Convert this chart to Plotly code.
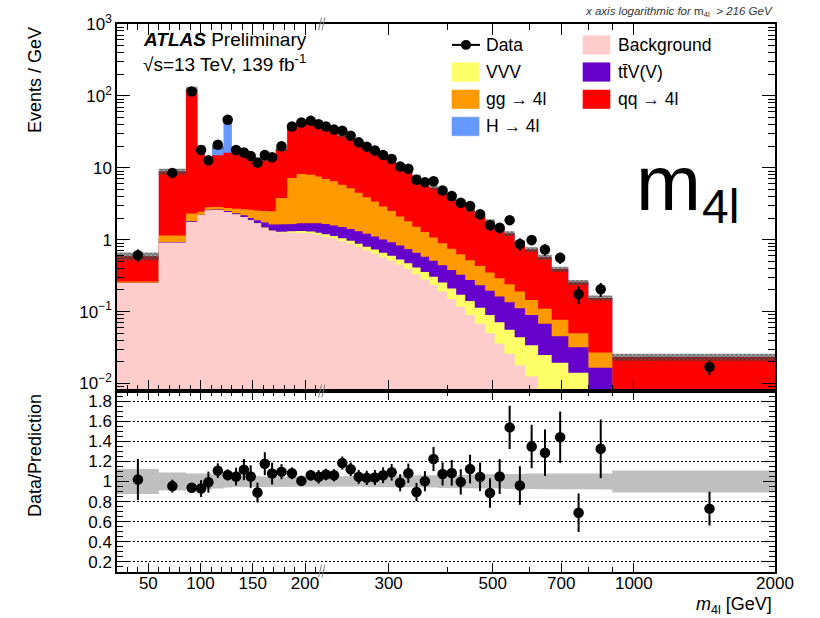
import numpy as np
import plotly.graph_objects as go

# ---------------- data ----------------
edges = [20, 60, 86, 97, 104, 111, 122, 130, 138, 145, 151, 158, 165, 172, 183, 192, 201, 210, 216,
         225, 234, 244, 254, 264, 275, 286, 298, 311, 324, 337, 351, 366, 382, 400, 418, 437, 458,
         482, 505, 530, 557, 586, 625, 668, 725, 800, 900, 2000]

data = [0.61, 8.5, 115, 17.7, 12.7, 21, 46.5, 17.7, 16.3, 14.6, 11.8, 15.1, 14.0, 19.9, 37.6, 42.7, 45, 40.5,
        37.6, 34, 32.8, 28, 22.6, 19.7, 17.4, 15.1, 13.3, 10.4, 9.7, 6.8, 6.3, 6.5, 4.85, 4.05, 3.27, 2.95,
        2.26, 1.59, 1.47, 1.87, 0.87, 0.99, 0.73, 0.56, 0.175, 0.205, 0.017]
data_relerr = [0.20, 0.067, 0.028, 0.09, 0.106, 0.066, 0.052, 0.084, 0.094, 0.107, 0.11, 0.097, 0.10, 0.068,
               0.054, 0.051, 0.05, 0.064, 0.054, 0.057, 0.055, 0.06, 0.066, 0.068, 0.072, 0.074, 0.076, 0.086,
               0.089, 0.10, 0.10, 0.098, 0.107, 0.117, 0.127, 0.127, 0.136, 0.165, 0.165, 0.14, 0.2, 0.16,
               0.18, 0.177, 0.277, 0.22, 0.23]
ratio = [1.02, 0.954, 0.937, 0.93, 0.993, 1.108, 1.065, 1.049, 1.118, 1.049, 0.89, 1.177, 1.079, 1.098, 1.082,
         1.006, 1.062, 1.046, 1.069, 1.062, 1.183, 1.121, 1.046, 1.036, 1.039, 1.062, 1.092, 0.987, 1.082,
         0.895, 1.003, 1.223, 1.075, 1.085, 0.996, 1.124, 1.046, 0.885, 1.049, 1.538, 0.96, 1.348, 1.286,
         1.44, 0.69, 1.325, 0.73]

# stack tops (cumulative heights, Events / GeV)
bkg_top = [0.25, 0.91, 1.77, 2.19, 2.55, 2.57, 2.43, 2.25, 2.07, 1.86, 1.68, 1.46, 1.32, 1.26, 1.245, 1.245, 1.22, 1.16,
           1.10, 1.04, 0.96, 0.88, 0.79, 0.71, 0.64, 0.57, 0.51, 0.45, 0.39, 0.33, 0.28, 0.235, 0.19, 0.15, 0.117,
           0.09, 0.068, 0.05, 0.036, 0.026, 0.018, 0.0125, 0.0075, 0.0045, 0.0028, 0.0016, 0.0002]
vvv_top = [0.25, 0.91, 1.77, 2.19, 2.55, 2.57, 2.43, 2.25, 2.07, 1.87, 1.69, 1.48, 1.34, 1.29, 1.31, 1.32, 1.30, 1.25,
           1.19, 1.13, 1.05, 0.97, 0.88, 0.80, 0.73, 0.66, 0.60, 0.53, 0.47, 0.41, 0.355, 0.305, 0.255, 0.21, 0.172,
           0.14, 0.113, 0.09, 0.071, 0.056, 0.044, 0.034, 0.025, 0.0194, 0.0141, 0.006, 0.0005]
ttv_top = [0.252, 0.93, 1.81, 2.23, 2.60, 2.63, 2.50, 2.33, 2.19, 2.01, 1.86, 1.73, 1.63, 1.63, 1.65, 1.70, 1.73, 1.70,
           1.65, 1.58, 1.50, 1.41, 1.31, 1.21, 1.11, 1.01, 0.92, 0.83, 0.74, 0.66, 0.58, 0.51, 0.44, 0.38, 0.325,
           0.275, 0.232, 0.195, 0.162, 0.135, 0.111, 0.09, 0.068, 0.0454, 0.032, 0.0166, 0.002]
gg_top = [0.262, 1.14, 2.31, 2.45, 2.83, 2.85, 2.76, 2.70, 2.65, 2.62, 2.55, 2.50, 2.48, 3.8, 7.2, 8.2, 8.0, 7.6,
          7.0, 6.5, 5.8, 5.2, 4.5, 3.9, 3.4, 2.9, 2.5, 2.1, 1.8, 1.52, 1.28, 1.07, 0.89, 0.75, 0.63, 0.52, 0.43,
          0.35, 0.29, 0.24, 0.19, 0.145, 0.11, 0.077, 0.050, 0.027, 0.004]
qq_top = [0.59, 8.9, 124, 19, 12.8, 15.0, 16.2, 16.9, 14.6, 13.9, 13.3, 12.8, 13.0, 18.1, 34.8, 42.4, 42.4, 38.7,
          35.2, 32, 27.7, 25, 21.6, 19, 16.7, 14.2, 12.2, 10.5, 9.0, 7.6, 6.3, 5.3, 4.5, 3.73, 3.28, 2.62, 2.16,
          1.80, 1.40, 1.22, 0.91, 0.73, 0.57, 0.39, 0.254, 0.155, 0.0233]
h_top = [0.59, 8.9, 124, 19, 12.8, 19.3, 43.7, 16.9, 14.6, 13.9, 13.3, 12.8, 13.0, 18.1, 34.8, 42.4, 42.4, 38.7,
         35.2, 32, 27.7, 25, 21.6, 19, 16.7, 14.2, 12.2, 10.5, 9.0, 7.6, 6.3, 5.3, 4.5, 3.73, 3.28, 2.62, 2.16,
         1.80, 1.40, 1.22, 0.91, 0.73, 0.57, 0.39, 0.254, 0.155, 0.0233]
pred_relunc = [0.125, 0.09, 0.08, 0.08, 0.08, 0.07, 0.06, 0.055, 0.055, 0.055, 0.055, 0.05, 0.05, 0.05, 0.05, 0.05,
               0.05, 0.05, 0.05, 0.05, 0.05, 0.05, 0.05, 0.055, 0.055, 0.055, 0.055, 0.06, 0.06, 0.06, 0.06, 0.06,
               0.065, 0.065, 0.065, 0.07, 0.07, 0.07, 0.07, 0.075, 0.075, 0.08, 0.08, 0.08, 0.08, 0.08, 0.11]

xtick_major = [50, 100, 150, 200, 300, 500, 700, 1000, 2000]
xtick_minor = [30, 40, 60, 70, 80, 90, 110, 120, 130, 140, 160, 170, 180, 190, 210, 400, 600, 800, 900]

# ---------------- piecewise x scale: linear up to 216 GeV, log above ----------------
BREAK = 216.0
K = 449.0


def U(m):
    m = np.asarray(m, dtype=float)
    return np.where(m <= BREAK, m, BREAK + K * np.log10(np.maximum(m, 1e-9) / BREAK))


e = np.array(edges, float)
ulo, uhi = U(e[:-1]), U(e[1:])
upt = U((e[:-1] + e[1:]) / 2)
XMIN, XMAX = float(U(20)), float(U(2000))

W, H = 820, 618
L, R, T, B = 117, 45, 21, 46
PW, PH = W - L - R, H - T - B
SPLIT = (H - B - 390) / PH
FONT = "Liberation Sans, Arial, Helvetica, sans-serif"


def xp(px):
    return (px - L) / PW


def yp(py):
    return (H - B - py) / PH


def step_outline(top):
    xs, ys = [], []
    for a, b, v in zip(ulo, uhi, top):
        xs += [a, b]
        ys += [v, v]
    return xs, ys


def filled_hist(top, floor):
    xs, ys = step_outline(top)
    return [ulo[0]] + xs + [uhi[-1]], [floor] + ys + [floor]


def band(lo, hi):
    xs1, ys1 = step_outline(hi)
    xs2, ys2 = step_outline(lo)
    return xs1 + xs2[::-1] + [xs1[0]], ys1 + ys2[::-1] + [ys1[0]]


fig = go.Figure()

colors = {
    "H": "#6699FF", "qq": "#FF0000", "gg": "#FF9900",
    "ttv": "#6600CC", "vvv": "#FFFF66", "bkg": "#FFCCCC",
}
for key, top in [("H", h_top), ("qq", qq_top), ("gg", gg_top), ("ttv", ttv_top), ("vvv", vvv_top), ("bkg", bkg_top)]:
    xs, ys = filled_hist(top, 1e-4)
    fig.add_trace(go.Scatter(x=xs, y=ys, mode="lines", fill="toself", fillcolor=colors[key],
                             line=dict(width=0, color=colors[key]), xaxis="x", yaxis="y", hoverinfo="skip"))

tot = np.array(h_top)
unc = np.array(pred_relunc)
xs, ys = band(list(tot * (1 - unc)), list(tot * (1 + unc)))
fig.add_trace(go.Scatter(x=xs, y=ys, mode="lines", fill="toself", fillcolor="rgba(80,80,80,0.5)",
                         fillpattern=dict(shape="x", fgcolor="rgba(35,35,35,0.95)", bgcolor="rgba(90,90,90,0.5)",
                                          size=3, solidity=0.6),
                         line=dict(width=0), xaxis="x", yaxis="y", hoverinfo="skip"))

d = np.array(data)
fig.add_trace(go.Scatter(x=upt, y=d, mode="markers", xaxis="x", yaxis="y",
                         marker=dict(color="black", size=10.5),
                         error_y=dict(type="data", array=d * np.array(data_relerr), color="black", thickness=2, width=0)))

# ratio panel
xs, ys = band(list(1 - unc), list(1 + unc))
fig.add_trace(go.Scatter(x=xs, y=ys, mode="lines", fill="toself", fillcolor="#BFBFBF", line=dict(width=0),
                         xaxis="x2", yaxis="y2", hoverinfo="skip"))
r = np.array(ratio)
fig.add_trace(go.Scatter(x=upt, y=r, mode="markers", xaxis="x2", yaxis="y2",
                         marker=dict(color="black", size=10.5),
                         error_y=dict(type="data", array=r * np.array(data_relerr), color="black", thickness=2, width=0)))

axis_common = dict(showline=True, linecolor="black", linewidth=1.5, mirror="allticks", ticks="inside",
                   tickcolor="black", tickwidth=1, zeroline=False, showgrid=False,
                   tickfont=dict(family=FONT, size=17, color="black"))

xmaj = [float(v) for v in U(xtick_major)]
xmin_ = [float(v) for v in U(xtick_minor)]
xcommon = dict(axis_common, range=[XMIN, XMAX], tickmode="array", tickvals=xmaj,
               ticktext=[str(v) for v in xtick_major], ticklen=11,
               minor=dict(tickvals=xmin_, ticklen=6, ticks="inside", tickcolor="black", tickwidth=1))

ymaj = [1e-2, 1e-1, 1, 10, 100, 1000]
ymin_ = [m * 10.0 ** k for k in range(-3, 3) for m in range(2, 10) if 10 ** -2.104 < m * 10.0 ** k < 1000]

fig.update_layout(
    width=W, height=H, margin=dict(l=L, r=R, t=T, b=B),
    paper_bgcolor="white", plot_bgcolor="white", showlegend=False,
    font=dict(family=FONT, color="black"),
    xaxis=dict(xcommon, domain=[0, 1], anchor="y", showticklabels=False),
    xaxis2=dict(xcommon, domain=[0, 1], anchor="y2", matches="x", showticklabels=True, ticklen=9,
                ticklabelstandoff=-5,
                minor=dict(tickvals=xmin_, ticklen=5, ticks="inside", tickcolor="black", tickwidth=1)),
    yaxis=dict(axis_common, domain=[SPLIT, 1], anchor="x", type="log", range=[-2.104, 3],
               tickmode="array", tickvals=ymaj,
               ticktext=["10<sup>−2</sup>", "10<sup>−1</sup>", "1", "10", "10<sup>2</sup>", "10<sup>3</sup>"],
               ticklen=13, minor=dict(tickvals=ymin_, ticklen=7, ticks="inside", tickcolor="black", tickwidth=1)),
    yaxis2=dict(axis_common, domain=[0, SPLIT], anchor="x2", range=[0.1, 1.9], tickmode="array",
                tickvals=[0.2, 0.4, 0.6, 0.8, 1.0, 1.2, 1.4, 1.6, 1.8],
                ticktext=["0.2", "0.4", "0.6", "0.8", "1", "1.2", "1.4", "1.6", "1.8"],
                ticklen=12, showgrid=True, gridcolor="black", griddash="1.5px,2.5px", gridwidth=1,
                tickfont=dict(family=FONT, size=17, color="black"),
                minor=dict(tickvals=[round(0.1 + 0.05 * i, 2) for i in range(37)], ticklen=6, ticks="inside",
                           tickcolor="black", tickwidth=1, showgrid=False)),
)

ann = []


def A(text, x, y, size, xanchor="left", yanchor="middle", **kw):
    ann.append(dict(text=text, x=x, y=y, xref="paper", yref="paper", xanchor=xanchor, yanchor=yanchor,
                    showarrow=False, font=dict(family=FONT, size=size, color=kw.pop("color", "black")), **kw))


A("<b><i>ATLAS</i></b> Preliminary", xp(141), yp(37), 19)
A("√s=13 TeV, 139 fb<sup>-1</sup>", xp(141), yp(60), 19)
A("<i>x axis logarithmic for </i>m<sub>4l</sub><i>  &gt; 216 GeV</i>", xp(775), yp(9), 11.5, xanchor="right",
  color="#333333")
A("m", xp(634), yp(181), 78)
A("4l", xp(700), yp(204), 48)
A("Events / GeV", xp(35), yp(22), 18, xanchor="center", yanchor="top", textangle=-90)
A("Data/Prediction", xp(35.5), yp(391), 18, xanchor="center", yanchor="top", textangle=-90)
A("<i>m</i><sub>4l</sub> [GeV]", xp(774), yp(606), 18, xanchor="right")

shapes = []
rows = [42.0, 69.3, 96.7, 124.0]
col_box = [(452, 479), (583, 610)]
col_txt = [484, 616]
legend_items = [
    (0, 1, "Background", colors["bkg"]), (1, 0, "VVV", colors["vvv"]), (1, 1, "tt̄V(V)", colors["ttv"]),
    (2, 0, "gg → 4l", colors["gg"]), (2, 1, "qq → 4l", colors["qq"]), (3, 0, "H → 4l", colors["H"]),
]
for row, col, label, c in legend_items:
    yc = rows[row]
    x0, x1 = col_box[col]
    shapes.append(dict(type="rect", xref="paper", yref="paper", x0=xp(x0), x1=xp(x1), y0=yp(yc + 9.3),
                       y1=yp(yc - 9.3), fillcolor=c, line=dict(width=0.6, color=c), layer="above"))
    A(label, xp(col_txt[col]), yp(yc), 17.5)
# Data legend entry
shapes.append(dict(type="line", xref="paper", yref="paper", x0=xp(452), x1=xp(480), y0=yp(42), y1=yp(42),
                   line=dict(color="black", width=2)))
shapes.append(dict(type="circle", xref="paper", yref="paper", x0=xp(461), x1=xp(471), y0=yp(47), y1=yp(37),
                   fillcolor="black", line=dict(color="black", width=0)))
A("Data", xp(col_txt[0]), yp(42), 17.5)

# axis-break marks "//"
xb = float(U(BREAK))
for ymid in [21, 390, 571]:
    for dx in [-1.6, 1.6]:
        shapes.append(dict(type="line", xref="x", yref="paper", x0=xb + dx - 1.4, x1=xb + dx + 1.4,
                           y0=yp(ymid + 6.5), y1=yp(ymid - 6.5), line=dict(color="#808080", width=1)))

fig.update_layout(annotations=ann, shapes=shapes)
fig.write_html("out.html")
